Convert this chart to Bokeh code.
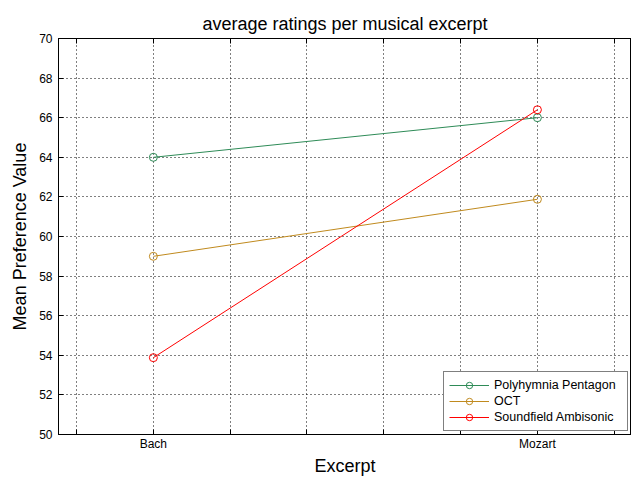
from bokeh.plotting import figure
from bokeh.models import Range1d, FixedTicker, LinearAxis, Legend, LegendItem
from bokeh.embed import file_html
from bokeh.resources import INLINE

excerpts = ["Bach", "Mozart"]
excerpt_x = [1, 2]
polyhymnia = [64.0, 66.0]
oct_vals = [59.0, 61.88]
soundfield = [53.88, 66.4]
series_names = ["Polyhymnia Pentagon", "OCT", "Soundfield Ambisonic"]
series_colors = ["#2e8b57", "#c08a1e", "#ff0000"]
y_ticks = list(range(50, 71, 2))
x_grid_ticks = [0.8, 1.0, 1.2, 1.4, 1.6, 1.8, 2.0, 2.2]
x_minor = [0.8, 1.2, 1.4, 1.6, 1.8, 2.2]

FONT = "Liberation Sans"

p = figure(width=631, height=478, output_backend="svg", toolbar_location=None,
           x_range=Range1d(0.753, 2.245), y_range=Range1d(50, 70),
           min_border_left=58, min_border_right=0, min_border_top=38, min_border_bottom=42)

p.title.text = "average ratings per musical excerpt"
p.title.align = "center"
p.title.text_font = FONT
p.title.text_font_size = "18px"
p.title.text_font_style = "normal"
p.title.text_color = "black"
p.title.standoff = 10

p.outline_line_color = "black"
p.outline_line_width = 1

p.xaxis.ticker = FixedTicker(ticks=excerpt_x, minor_ticks=x_minor)
p.xaxis.major_label_overrides = {1: excerpts[0], 2: excerpts[1]}
p.yaxis.ticker = FixedTicker(ticks=y_ticks)
for ax in (p.xaxis[0], p.yaxis[0]):
    ax.major_tick_in = 5
    ax.major_tick_out = 0
    ax.minor_tick_in = 5
    ax.minor_tick_out = 0
    ax.minor_tick_line_color = "black"
    ax.axis_line_color = "black"
    ax.major_tick_line_color = "black"
    ax.major_label_text_font = FONT
    ax.major_label_text_font_size = "12px"
    ax.major_label_text_color = "black"
    ax.axis_label_text_font = FONT
    ax.axis_label_text_font_style = "normal"
    ax.axis_label_text_font_size = "18px"
    ax.axis_label_text_color = "black"
p.yaxis.minor_tick_line_color = None
p.xaxis.axis_label = "Excerpt"
p.yaxis.axis_label = "Mean Preference Value"
p.xaxis.major_label_standoff = 2
p.xaxis.axis_label_standoff = 2
p.yaxis.major_label_standoff = 6
p.yaxis.axis_label_standoff = 6

top_axis = LinearAxis(ticker=FixedTicker(ticks=[], minor_ticks=x_grid_ticks),
                      major_tick_in=5, major_tick_out=0, minor_tick_in=5, minor_tick_out=0,
                      minor_tick_line_color="black", axis_line_color="black",
                      major_label_standoff=0)
p.add_layout(top_axis, "above")

p.xgrid.ticker = FixedTicker(ticks=x_grid_ticks)
p.ygrid.ticker = FixedTicker(ticks=y_ticks)
for g in (p.xgrid[0], p.ygrid[0]):
    g.grid_line_color = "black"
    g.grid_line_dash = "1 3"
    g.grid_line_width = 1

items = []
for name, vals, col in zip(series_names, [polyhymnia, oct_vals, soundfield], series_colors):
    l = p.line(excerpt_x, vals, line_color=col, line_width=1)
    c = p.scatter(excerpt_x, vals, marker="circle", size=8, fill_color=None, line_color=col, line_width=1)
    items.append(LegendItem(label=name, renderers=[l, c]))

legend = Legend(items=items, location="bottom_right")
legend.label_text_font = FONT
legend.label_text_font_size = "12.5px"
legend.label_text_color = "black"
legend.border_line_color = "black"
legend.border_line_width = 1
legend.background_fill_color = "white"
legend.background_fill_alpha = 1
legend.glyph_width = 40
legend.glyph_height = 16
legend.label_height = 16
legend.label_width = 128
legend.spacing = 0
legend.padding = 5
legend.margin = 3
legend.label_standoff = 5
p.add_layout(legend, "center")

open("out.html", "w").write(file_html(p, INLINE))
